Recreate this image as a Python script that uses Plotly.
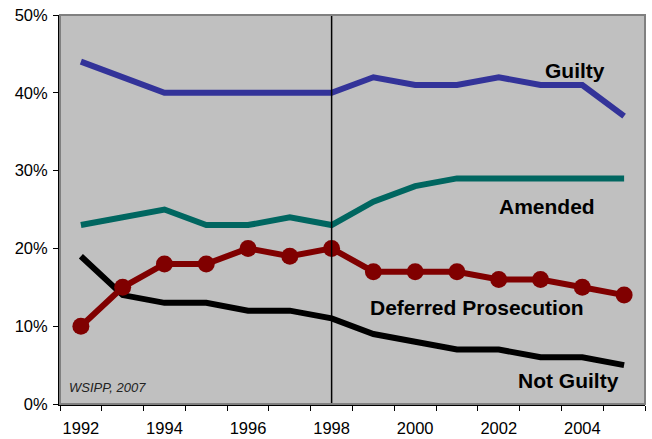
import plotly.graph_objects as go

years = list(range(1992, 2006))
guilty = [0.44, 0.42, 0.40, 0.40, 0.40, 0.40, 0.40, 0.42, 0.41, 0.41, 0.42, 0.41, 0.41, 0.37]
amended = [0.23, 0.24, 0.25, 0.23, 0.23, 0.24, 0.23, 0.26, 0.28, 0.29, 0.29, 0.29, 0.29, 0.29]
deferred = [0.10, 0.15, 0.18, 0.18, 0.20, 0.19, 0.20, 0.17, 0.17, 0.17, 0.16, 0.16, 0.15, 0.14]
not_guilty = [0.19, 0.14, 0.13, 0.13, 0.12, 0.12, 0.11, 0.09, 0.08, 0.07, 0.07, 0.06, 0.06, 0.05]
year_labels = [1992, 1994, 1996, 1998, 2000, 2002, 2004]

FONT = 'Arial, Liberation Sans, sans-serif'

fig = go.Figure()

# lines, drawn back to front like the original
fig.add_trace(go.Scatter(x=years, y=not_guilty, mode='lines',
                         line=dict(color='black', width=6)))
fig.add_trace(go.Scatter(x=years, y=amended, mode='lines',
                         line=dict(color='#006660', width=6)))
fig.add_trace(go.Scatter(x=years, y=guilty, mode='lines',
                         line=dict(color='#333399', width=6)))
fig.add_trace(go.Scatter(x=years, y=deferred, mode='lines+markers',
                         line=dict(color='#800000', width=6),
                         marker=dict(color='#800000', size=17)))

# marks the 1998 break
fig.add_vline(x=1998, line_color='black', line_width=1.5)

# series labels
labels = [
    ('Guilty', 2003.82, 0.429),
    ('Amended', 2003.15, 0.2545),
    ('Deferred Prosecution', 2001.48, 0.1234),
    ('Not Guilty', 2003.66, 0.0308),
]
for text, x, y in labels:
    fig.add_annotation(x=x, y=y, text=f'<b>{text}</b>', showarrow=False,
                       font=dict(size=21, color='black', family=FONT))

fig.add_annotation(x=0.012, xref='paper', xanchor='left', y=0.0206,
                   text='<i>WSIPP, 2007</i>', showarrow=False,
                   font=dict(size=13, color='#222222', family=FONT))

# gray frame, then black axis lines on left/bottom
fig.add_shape(type='rect', xref='paper', yref='paper', x0=0, x1=1, y0=0, y1=1,
              line=dict(color='#808080', width=2), layer='above')

fig.update_layout(
    width=652, height=439,
    margin=dict(l=60, r=7, t=15, b=35),
    paper_bgcolor='white',
    plot_bgcolor='#C0C0C0',
    showlegend=False,
    hovermode=False,
    font=dict(family=FONT, size=16, color='black'),
    xaxis=dict(
        range=[1991.5, 2005.5],
        tickvals=year_labels,
        ticks='',
        showgrid=False,
        zeroline=False,
        automargin=False,
        ticklabelstandoff=8,
        showline=True, linecolor='black', linewidth=2,
        minor=dict(tickvals=[y + 0.5 for y in range(1991, 2006)],
                   ticks='outside', ticklen=5, tickcolor='black', showgrid=False),
        tickfont=dict(size=16.5),
    ),
    yaxis=dict(
        range=[0, 0.5],
        tickvals=[0, 0.1, 0.2, 0.3, 0.4, 0.5],
        tickformat='.0%',
        ticks='outside', ticklen=5, tickcolor='black',
        showgrid=False,
        zeroline=False,
        automargin=False,
        ticklabelstandoff=2,
        showline=True, linecolor='black', linewidth=2,
        tickfont=dict(size=16.5),
    ),
)

# drop the browser's default 8px body margin so the figure fills the window
fig.write_html('out.html', config={'displayModeBar': False},
               post_script="document.body.style.margin = '0';")
